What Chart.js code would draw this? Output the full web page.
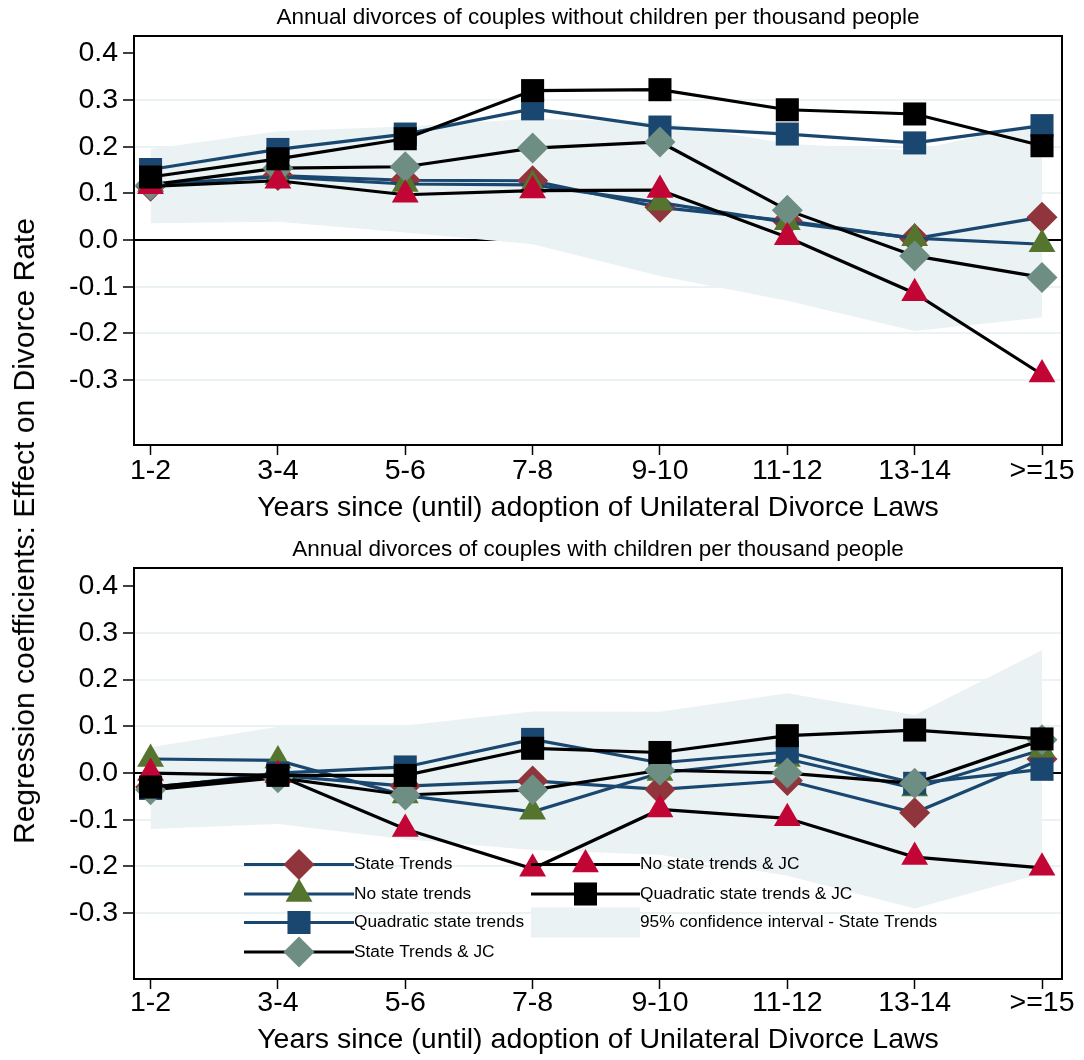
<!DOCTYPE html>
<html>
<head>
<meta charset="utf-8">
<script src="https://cdn.jsdelivr.net/npm/chart.js@4.4.1/dist/chart.umd.min.js"></script>
<style>
  html, body { margin: 0; padding: 0; background: #fff; }
  #wrap { position: relative; width: 1084px; height: 1060px; overflow: hidden; }
  .panel { position: absolute; left: 0; width: 1084px; height: 530px; }
  #ytitle {
    position: absolute; left: 24px; top: 531px;
    transform: translate(-50%, -50%) rotate(-90deg);
    white-space: nowrap; color: #000;
    font: 30px "Liberation Sans", Arial, sans-serif;
  }
</style>
</head>
<body>
<div id="wrap">
  <div class="panel" style="top:0"><canvas id="topChart"></canvas></div>
  <div class="panel" style="top:530px"><canvas id="bottomChart"></canvas></div>
  <div id="ytitle">Regression coefficients: Effect on Divorce Rate</div>
</div>
<script>
const periods = ['1-2', '3-4', '5-6', '7-8', '9-10', '11-12', '13-14', '>=15'];
const yTickValues = [-0.3, -0.2, -0.1, 0, 0.1, 0.2, 0.3, 0.4];

// couples without children
const topST    = [0.115, 0.138, 0.128, 0.127, 0.070, 0.041, 0.003, 0.049];
const topNST   = [0.120, 0.135, 0.120, 0.118, 0.080, 0.038, 0.004, -0.009];
const topQST   = [0.151, 0.194, 0.227, 0.281, 0.242, 0.227, 0.208, 0.245];
const topSTJC  = [0.118, 0.154, 0.157, 0.197, 0.210, 0.064, -0.034, -0.080];
const topNSTJC = [0.115, 0.127, 0.097, 0.106, 0.107, 0.006, -0.114, -0.288];
const topQSTJC = [0.135, 0.174, 0.217, 0.320, 0.322, 0.279, 0.270, 0.202];
const topCIUpper = [0.195, 0.233, 0.243, 0.260, 0.253, 0.206, 0.192, 0.253];
const topCILower = [0.036, 0.039, 0.016, -0.009, -0.077, -0.130, -0.195, -0.166];

// couples with children
const botST    = [-0.030, -0.005, -0.028, -0.017, -0.035, -0.016, -0.085, 0.030];
const botNST   = [0.030, 0.027, -0.048, -0.083, 0.000, 0.030, -0.033, 0.050];
const botQST   = [-0.033, 0.000, 0.013, 0.072, 0.022, 0.045, -0.022, 0.008];
const botSTJC  = [-0.036, -0.010, -0.047, -0.036, 0.006, 0.000, -0.022, 0.071];
const botNSTJC = [0.000, -0.005, -0.120, -0.205, -0.078, -0.097, -0.180, -0.203];
const botQSTJC = [-0.030, -0.005, -0.005, 0.053, 0.044, 0.080, 0.092, 0.073];
const botCIUpper = [0.055, 0.099, 0.102, 0.132, 0.131, 0.171, 0.124, 0.263];
const botCILower = [-0.120, -0.109, -0.142, -0.165, -0.175, -0.220, -0.290, -0.215];

const NAVY = '#1a476f', MAROON = '#90353b', GREEN = '#55752f', TEAL = '#6e8e84',
      CRAN = '#c10534', BLACK = '#000000', BAND = '#ebf2f3';
const FONT = '"Liberation Sans", Arial, sans-serif';

const seriesStyle = [
  {label: 'State Trends', line: NAVY, marker: MAROON, shape: 'rectRot', r: 15.5},
  {label: 'No state trends', line: NAVY, marker: GREEN, shape: 'triangle', r: 15.5},
  {label: 'Quadratic state trends', line: NAVY, marker: NAVY, shape: 'rect', r: 16.3},
  {label: 'State Trends & JC', line: BLACK, marker: TEAL, shape: 'rectRot', r: 15.5},
  {label: 'No state trends & JC', line: BLACK, marker: CRAN, shape: 'triangle', r: 15.5},
  {label: 'Quadratic state trends & JC', line: BLACK, marker: BLACK, shape: 'rect', r: 16.3}
];
const ciLabel = '95% confidence interval - State Trends';

Chart.defaults.font.family = FONT;
Chart.defaults.color = '#000';

function pts(vals) {
  return vals.map((v, i) => ({x: i + 1, y: v}));
}

function buildDatasets(series, ciUp, ciLo) {
  const ds = seriesStyle.map((s, k) => ({
    label: s.label,
    data: pts(series[k]),
    borderColor: s.line,
    borderWidth: 3.2,
    tension: 0,
    fill: false,
    pointStyle: s.shape,
    pointRadius: s.r,
    pointHoverRadius: s.r,
    pointBackgroundColor: s.marker,
    pointBorderColor: s.marker,
    pointBorderWidth: 0,
    order: 6 - k
  }));
  ds.push({
    label: ciLabel,
    data: pts(ciUp),
    borderWidth: 0,
    borderColor: 'rgba(0,0,0,0)',
    backgroundColor: BAND,
    pointRadius: 0,
    fill: '+1',
    order: 11
  });
  ds.push({
    label: 'ci lower',
    data: pts(ciLo),
    borderWidth: 0,
    borderColor: 'rgba(0,0,0,0)',
    pointRadius: 0,
    fill: false,
    order: 10
  });
  return ds;
}

// plot region frame on all four sides
const frame = {
  id: 'frame',
  afterDraw(chart) {
    const {ctx, chartArea: a} = chart;
    ctx.save();
    ctx.strokeStyle = '#000';
    ctx.lineWidth = 2;
    ctx.strokeRect(a.left, a.top, a.right - a.left, a.bottom - a.top);
    ctx.restore();
  }
};

function drawMarker(ctx, shape, r, x, y) {
  ctx.beginPath();
  if (shape === 'rectRot') {
    ctx.moveTo(x - r, y); ctx.lineTo(x, y - r); ctx.lineTo(x + r, y); ctx.lineTo(x, y + r);
  } else if (shape === 'rect') {
    const h = r * Math.SQRT1_2;
    ctx.rect(x - h, y - h, 2 * h, 2 * h);
  } else {
    ctx.moveTo(x, y - r);
    ctx.lineTo(x + 0.866 * r, y + 0.5 * r);
    ctx.lineTo(x - 0.866 * r, y + 0.5 * r);
  }
  ctx.closePath();
  ctx.fill();
}

// stata style legend inside the lower plot
const legendRows = [334.5, 364, 392.5, 422];
const legendCols = [{x0: 244, x1: 354}, {x0: 531, x1: 640}];
const stataLegend = {
  id: 'stataLegend',
  afterDatasetsDraw(chart) {
    const ctx = chart.ctx;
    ctx.save();
    ctx.font = '17.3px ' + FONT;
    ctx.textBaseline = 'middle';
    ctx.textAlign = 'left';
    const items = seriesStyle.map(s => s).concat([{label: ciLabel, band: true}]);
    items.forEach((it, i) => {
      const col = legendCols[i < 4 ? 0 : 1];
      const y = legendRows[i < 4 ? i : i - 4];
      if (it.band) {
        ctx.fillStyle = BAND;
        ctx.fillRect(col.x0, y - 15, col.x1 - col.x0, 30);
      } else {
        ctx.strokeStyle = it.line;
        ctx.lineWidth = 3.2;
        ctx.beginPath();
        ctx.moveTo(col.x0, y);
        ctx.lineTo(col.x1, y);
        ctx.stroke();
        ctx.fillStyle = it.marker;
        drawMarker(ctx, it.shape, it.r, (col.x0 + col.x1) / 2, y);
      }
      ctx.fillStyle = '#000';
      ctx.fillText(it.label, col.x1, y);
    });
    ctx.restore();
  }
};

function makeChart(id, title, series, ciUp, ciLo, lay) {
  return new Chart(document.getElementById(id), {
    type: 'line',
    data: {datasets: buildDatasets(series, ciUp, ciLo)},
    plugins: lay.legend ? [frame, stataLegend] : [frame],
    options: {
      responsive: true,
      maintainAspectRatio: false,
      animation: false,
      layout: {padding: {left: 40, right: 22, top: 0, bottom: lay.bottom}},
      plugins: {
        legend: {display: false},
        tooltip: {enabled: false},
        title: {
          display: true,
          text: title,
          fullSize: false,
          color: '#000',
          font: {size: 22.5, weight: 'normal'},
          padding: {top: lay.titleTop, bottom: lay.titleBottom}
        }
      },
      scales: {
        x: {
          type: 'linear',
          min: 0.87,
          max: 8.157,
          afterBuildTicks: (scale) => {
            scale.ticks = periods.map((p, i) => ({value: i + 1}));
          },
          ticks: {
            padding: lay.tickPad,
            maxRotation: 0,
            font: {size: 28.5, lineHeight: 1},
            callback: (v) => periods[Math.round(v) - 1]
          },
          grid: {drawOnChartArea: false, tickLength: 10, tickColor: '#000', tickWidth: 1.5},
          border: {color: '#000', width: 2},
          title: {
            display: true,
            text: 'Years since (until) adoption of Unilateral Divorce Laws',
            font: {size: 28.5},
            padding: {top: lay.xTitleTop, bottom: 0}
          }
        },
        y: {
          min: lay.ymin,
          max: lay.ymax,
          afterFit: (scale) => { scale.width = 94; },
          afterBuildTicks: (scale) => {
            scale.ticks = yTickValues.map(v => ({value: v}));
          },
          ticks: {
            padding: 5,
            font: {size: 28.5},
            callback: (v) => Number(v).toFixed(1)
          },
          grid: {
            color: (c) => c.tick.value === 0 ? '#000' : (c.tick.value === 0.4 ? 'rgba(0,0,0,0)' : BAND),
            lineWidth: 2,
            tickLength: 11,
            tickColor: '#000',
            tickWidth: 1.5
          },
          border: {color: '#000', width: 2}
        }
      }
    }
  });
}

makeChart('topChart', 'Annual divorces of couples without children per thousand people',
  [topST, topNST, topQST, topSTJC, topNSTJC, topQSTJC], topCIUpper, topCILower,
  {bottom: 4.9, titleTop: 4.5, titleBottom: 4.5, tickPad: 2, xTitleTop: 3.4, ymin: -0.439, ymax: 0.437, legend: false});

makeChart('bottomChart', 'Annual divorces of couples with children per thousand people',
  [botST, botNST, botQST, botSTJC, botNSTJC, botQSTJC], botCIUpper, botCILower,
  {bottom: 2.9, titleTop: 6.5, titleBottom: 4.5, tickPad: 0, xTitleTop: 5.4, ymin: -0.441, ymax: 0.439, legend: true});
</script>
</body>
</html>
